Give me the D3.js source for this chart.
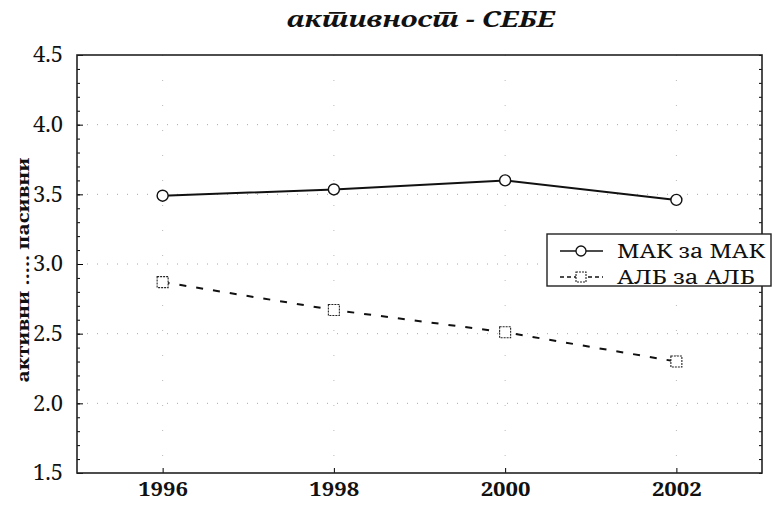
<!DOCTYPE html>
<html>
<head>
<meta charset="utf-8">
<script src="https://cdn.jsdelivr.net/npm/d3@7"></script>
<style>
  body { margin: 0; background: #fff; }
</style>
</head>
<body>
<div id="chart"></div>
<script>
// data
const years = [1996, 1998, 2000, 2002];
const makValues = [3.49, 3.535, 3.60, 3.46];
const albValues = [2.87, 2.67, 2.51, 2.30];
const seriesNames = ["МАК за МАК", "АЛБ за АЛБ"];
const yTicks = [1.5, 2.0, 2.5, 3.0, 3.5, 4.0, 4.5];
const titleText = "активност - СЕБЕ";
const yLabel = "активни ..... пасивни";

const serif = "'Noto Serif', serif";
const W = 783, H = 509;
const margin = { top: 55, right: 21, bottom: 36, left: 77 };
const width = W - margin.left - margin.right;
const height = H - margin.top - margin.bottom;

const svg = d3.select("#chart").append("svg")
  .attr("width", W).attr("height", H);

const g = svg.append("g")
  .attr("transform", "translate(" + margin.left + "," + margin.top + ")");

const x = d3.scaleLinear().domain([1995, 2003]).range([0, width]);
const y = d3.scaleLinear().domain([1.5, 4.5]).range([height, 0]);

// grid (dotted)
g.append("g").selectAll("line")
  .data(yTicks.slice(1, -1))
  .join("line")
  .attr("x1", 0).attr("x2", width)
  .attr("y1", d => y(d)).attr("y2", d => y(d))
  .attr("stroke", "#a8a8a8").attr("stroke-width", 1)
  .attr("stroke-dasharray", "1,9");

g.append("g").selectAll("line")
  .data(years)
  .join("line")
  .attr("x1", d => x(d)).attr("x2", d => x(d))
  .attr("y1", 0).attr("y2", height)
  .attr("stroke", "#b8b8b8").attr("stroke-width", 1)
  .attr("stroke-dasharray", "1,24");

// minor ticks (inside, left and right)
const minor = d3.range(15, 46).map(v => v / 10);
const yAxisL = d3.axisLeft(y).tickValues(minor).tickSize(-3).tickFormat("");
const yAxisR = d3.axisRight(y).tickValues(minor).tickSize(-3).tickFormat("");
g.append("g").call(yAxisL).call(a => a.select(".domain").remove());
g.append("g").attr("transform", "translate(" + width + ",0)").call(yAxisR)
  .call(a => a.select(".domain").remove());

// major y ticks with labels
const yAxis = d3.axisLeft(y).tickValues(yTicks).tickSize(-6).tickPadding(14)
  .tickFormat(d3.format(".1f"));
g.append("g").call(yAxis)
  .call(a => a.select(".domain").remove())
  .call(a => a.selectAll("text").attr("font-size", 21).attr("fill", "#111")
    .attr("textLength", 30).attr("lengthAdjust", "spacingAndGlyphs"));

// x axis
const xAxis = d3.axisBottom(x).tickValues(years).tickSize(-5).tickPadding(10)
  .tickFormat(d3.format("d"));
g.append("g").attr("transform", "translate(0," + height + ")").call(xAxis)
  .call(a => a.select(".domain").remove())
  .call(a => a.selectAll("text").attr("font-size", 19).attr("font-weight", "bold")
    .attr("fill", "#111")
    .attr("textLength", 50).attr("lengthAdjust", "spacingAndGlyphs"));

// frame
g.append("rect").attr("width", width).attr("height", height)
  .attr("fill", "none").attr("stroke", "#222").attr("stroke-width", 1.6);

// lines
const line = d3.line().x(d => x(d[0])).y(d => y(d[1]));
const makData = years.map((yr, i) => [yr, makValues[i]]);
const albData = years.map((yr, i) => [yr, albValues[i]]);

g.append("path").datum(makData).attr("d", line)
  .attr("fill", "none").attr("stroke", "#111").attr("stroke-width", 2);
g.append("path").datum(albData).attr("d", line)
  .attr("fill", "none").attr("stroke", "#111").attr("stroke-width", 2)
  .attr("stroke-dasharray", "7,10");

g.selectAll(".mak").data(makData).join("circle")
  .attr("class", "mak")
  .attr("cx", d => x(d[0])).attr("cy", d => y(d[1])).attr("r", 5.5)
  .attr("fill", "#fff").attr("stroke", "#111").attr("stroke-width", 1.4);

g.selectAll(".alb").data(albData).join("rect")
  .attr("class", "alb")
  .attr("x", d => x(d[0]) - 5.5).attr("y", d => y(d[1]) - 5.5)
  .attr("width", 11).attr("height", 11)
  .attr("fill", "#fff").attr("stroke", "#222").attr("stroke-width", 1.1)
  .attr("stroke-dasharray", "2,1");

// legend
const legend = svg.append("g").attr("transform", "translate(547,234)");
legend.append("rect").attr("width", 224).attr("height", 52)
  .attr("fill", "#fff").attr("stroke", "#222").attr("stroke-width", 1.4);

const rowY = [17, 43];
legend.append("line").attr("x1", 13).attr("x2", 56).attr("y1", rowY[0]).attr("y2", rowY[0])
  .attr("stroke", "#111").attr("stroke-width", 1.6);
legend.append("circle").attr("cx", 34).attr("cy", rowY[0]).attr("r", 5)
  .attr("fill", "#fff").attr("stroke", "#111").attr("stroke-width", 1.3);
legend.append("line").attr("x1", 13).attr("x2", 56).attr("y1", rowY[1]).attr("y2", rowY[1])
  .attr("stroke", "#111").attr("stroke-width", 1.6).attr("stroke-dasharray", "4,3");
legend.append("rect").attr("x", 29).attr("y", rowY[1] - 5).attr("width", 10).attr("height", 10)
  .attr("fill", "#fff").attr("stroke", "#222").attr("stroke-width", 1.1)
  .attr("stroke-dasharray", "2,1");

legend.selectAll(".lt").data(seriesNames).join("text")
  .attr("class", "lt")
  .attr("x", 70).attr("y", (d, i) => rowY[i] + 7)
  .attr("font-size", 19).attr("fill", "#111")
  .attr("textLength", (d, i) => i === 0 ? 148 : 138)
  .attr("lengthAdjust", "spacingAndGlyphs")
  .text(d => d);

// title
svg.append("text")
  .attr("x", 421).attr("y", 27)
  .attr("text-anchor", "middle")
  .attr("lang", "sr")
  .attr("font-size", 21).attr("font-weight", "bold").attr("font-style", "italic")
  .attr("fill", "#111")
  .attr("textLength", 268).attr("lengthAdjust", "spacingAndGlyphs")
  .text(titleText);

// y label
svg.append("text")
  .attr("transform", "translate(29,270) rotate(-90)")
  .attr("text-anchor", "middle")
  .attr("font-size", 16).attr("font-weight", "bold").attr("fill", "#111")
  .attr("textLength", 225).attr("lengthAdjust", "spacingAndGlyphs")
  .text(yLabel);

// all text in a Times-like serif
svg.selectAll("text").style("font-family", serif);
</script>
</body>
</html>
